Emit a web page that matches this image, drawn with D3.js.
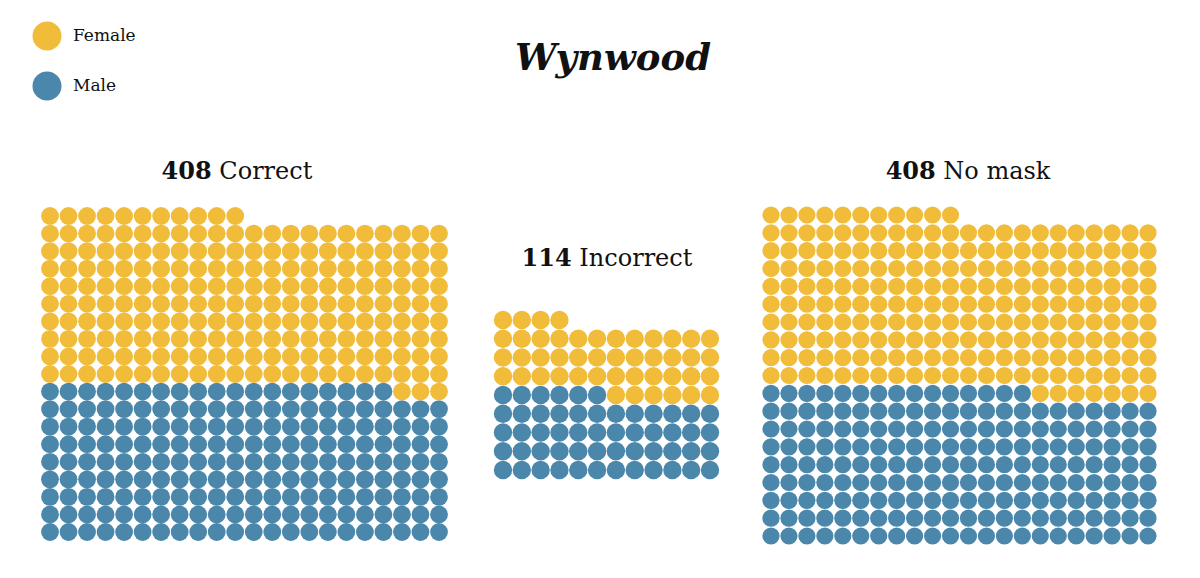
<!DOCTYPE html>
<html>
<head>
<meta charset="utf-8">
<script src="https://cdn.jsdelivr.net/npm/d3@7"></script>
<style>
  body { margin: 0; background: #fff; }
  svg { display: block; }
  text { font-family: "DejaVu Serif", "Liberation Serif", serif; fill: #111; }
</style>
</head>
<body>
<svg id="chart" width="1200" height="578"></svg>
<script>
// data
var groups = ["Correct", "Incorrect", "No mask"];
var totals = [408, 114, 408];
var maleDots = [195, 54, 191];
var femaleDots = [212, 46, 216];
var genders = ["Female", "Male"];
var colors = ["#f1bc39", "#4a87ab"];

// panel layout (x range, y range of dot centres, columns, radius, label pos)
var panels = [
    { cols: 22, x0: 50, x1: 439, top: 216, bottom: 532, r: 8.9, lx: 237, ly: 179 },
    { cols: 12, x0: 503, x1: 710, top: 320, bottom: 470, r: 9.2, lx: 607, ly: 266 },
    { cols: 22, x0: 771, x1: 1148, top: 215, bottom: 536, r: 8.6, lx: 968, ly: 179 }
];

var svg = d3.select("#chart");
var color = d3.scaleOrdinal().domain(genders).range(colors);

svg.append("text")
    .attr("x", 613)
    .attr("y", 70)
    .attr("text-anchor", "middle")
    .style("font-size", "37px")
    .style("font-weight", "bold")
    .style("font-style", "italic")
    .text("Wynwood");

// legend
var legend = svg.selectAll(".legend")
    .data(genders)
    .enter().append("g")
    .attr("class", "legend")
    .attr("transform", function (d, i) { return "translate(47," + (36 + i * 50) + ")"; });

legend.append("circle")
    .attr("r", 14.5)
    .style("fill", function (d) { return color(d); });

legend.append("text")
    .attr("x", 26)
    .attr("y", 5)
    .style("font-size", "17px")
    .text(function (d) { return d; });

groups.forEach(function (name, g) {
    var p = panels[g];
    var n = maleDots[g] + femaleDots[g];
    var rows = Math.ceil(n / p.cols);

    // males fill from the bottom-left, females continue above
    var dots = [];
    for (var i = 0; i < n; i++) {
        dots.push({
            col: i % p.cols,
            row: Math.floor(i / p.cols),
            gender: i < maleDots[g] ? "Male" : "Female"
        });
    }

    var x = d3.scaleLinear().domain([0, p.cols - 1]).range([p.x0, p.x1]);
    var y = d3.scaleLinear().domain([0, rows - 1]).range([p.bottom, p.top]);

    var panel = svg.append("g").attr("class", "panel");

    panel.selectAll("circle")
        .data(dots)
        .enter().append("circle")
        .attr("cx", function (d) { return x(d.col); })
        .attr("cy", function (d) { return y(d.row); })
        .attr("r", p.r)
        .style("fill", function (d) { return color(d.gender); });

    var label = panel.append("text")
        .attr("x", p.lx)
        .attr("y", p.ly)
        .attr("text-anchor", "middle")
        .style("font-size", "24px");
    label.append("tspan").style("font-weight", "bold").text(totals[g]);
    label.append("tspan").text(" " + name);
});
</script>
</body>
</html>
